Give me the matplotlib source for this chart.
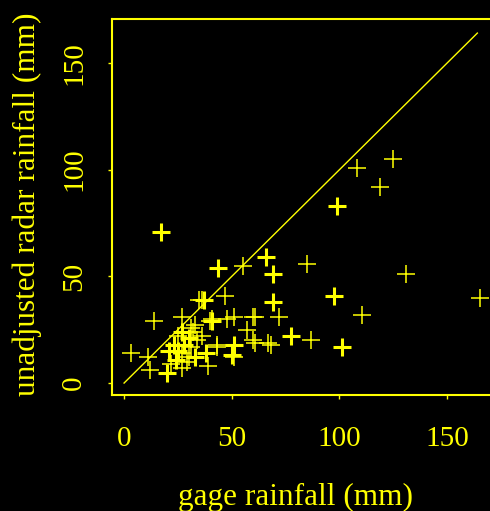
import matplotlib
matplotlib.use("Agg")
import matplotlib.pyplot as plt

# gage vs unadjusted radar rainfall (mm)
gage = [108, 125, 119, 85, 131, 165, 60, 72, 110.5, 87, 67, 60, 55, 47, 41,
        51, 61, 57, 68, 51, 43, 3, 14, 11, 12, 27, 27, 36, 40, 31, 34, 27,
        31, 39, 43, 48, 30, 25, 32, 61, 35, 22, 29, 33, 36]
radar = [101, 105, 92, 56, 51, 40, 31, 31, 32, 20, 19, 20, 55, 41, 30,
         31, 31, 25, 18, 12, 17, 14, 29, 12, 6, 7, 31, 39, 29, 26, 20, 14,
         17, 8, 18, 30, 12, 22, 24, 19, 39, 9, 10, 27, 22]

# points that plot on top of each other (drawn heavier)
gage_dup = [17, 99, 66, 69, 97.5, 69, 77.5, 101, 43.5, 37, 51, 20, 23, 21,
            38, 50, 41, 25, 28, 33, 24, 30, 27]
radar_dup = [71, 83, 59, 51, 41, 38, 22, 17, 54, 39, 18, 4.5, 18, 15,
             14, 13, 29, 15, 18, 12, 11, 21, 24]

line_end = 164

fg = '#ffff00'
plt.rcParams['font.family'] = ['Liberation Serif', 'DejaVu Serif']

fig = plt.figure(figsize=(4.9, 5.11), dpi=100, facecolor='black')
ax = fig.add_axes([112/490., (511-395)/511., 380/490., 376/511.])
ax.set_facecolor('black')

ax.plot([0, line_end], [0, line_end], '-', color=fg, lw=1.0)
ax.plot(gage, radar, '+', color=fg, ms=13, mew=1.1, ls='none')
ax.plot(gage_dup, radar_dup, '+', color=fg, ms=13, mew=2.2, ls='none')

ax.set_xlim(-5.6, 170.8)
ax.set_ylim(-5.6, 170.6)
ax.set_xticks([0, 50, 100, 150])
ax.set_yticks([0, 50, 100, 150])

for s in ax.spines.values():
    s.set_color(fg)
    s.set_linewidth(1.5)
ax.tick_params(colors=fg, length=3, width=1, labelsize=21)
ax.tick_params(axis='x', pad=19)
ax.tick_params(axis='y', pad=15)
for lab in ax.get_yticklabels():
    lab.set_rotation(90)
    lab.set_va('center')

fig.text(295/490., 1-497/511., 'gage rainfall (mm)', color=fg, fontsize=22.5,
         ha='center', va='center')
fig.text(27/490., 1-204/511., 'unadjusted radar rainfall (mm)', color=fg,
         fontsize=22.5, rotation=90, ha='center', va='center')

plt.savefig('out.png', dpi=100, facecolor='black')
